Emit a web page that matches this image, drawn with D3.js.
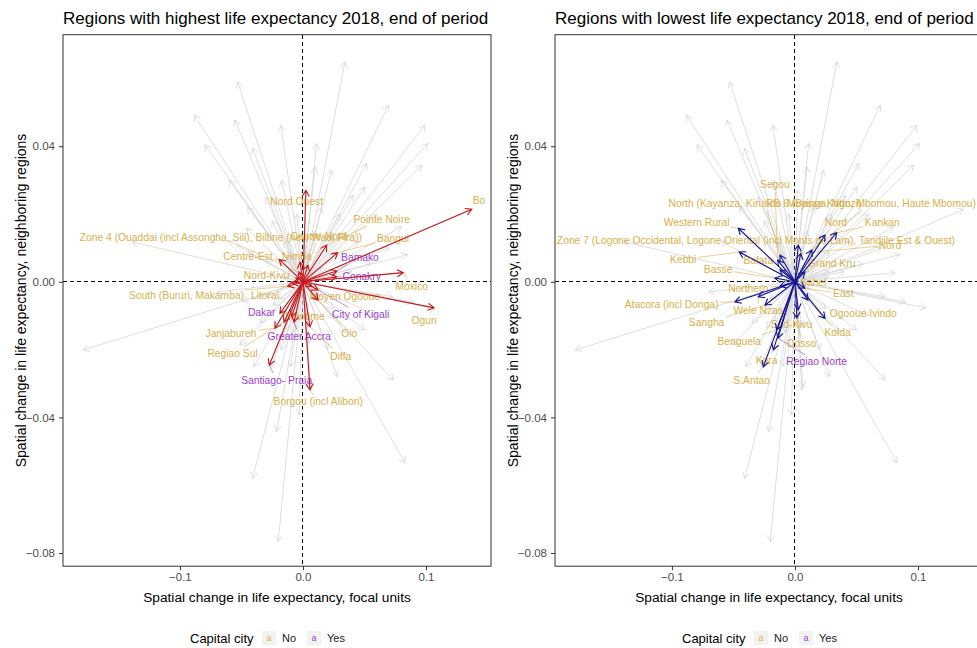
<!DOCTYPE html>
<html>
<head>
<meta charset="utf-8">
<script src="https://cdn.jsdelivr.net/npm/d3@7"></script>
<style>
  body { margin: 0; background: #fff; }
  text { font-family: "Liberation Sans", Arial, sans-serif; }
</style>
</head>
<body>
<div id="chart"></div>
<script>
// Background arrows (all regions), end points in data units
const bgX = [0.0341, -0.0531, 0.0694, -0.0884, -0.0553, -0.0179, 0.0992, -0.0797, 0.1014, 0.0111,
  -0.0409, 0.0518, 0.0965, 0.0098, 0.0233, -0.0173, 0.0504, 0.0409, -0.1786, -0.0409,
  -0.0201, -0.0214, -0.0030, 0.0829, 0.0734, -0.1390, -0.0512, 0.0500, 0.0732, 0.0802,
  0.0555, 0.0065, -0.0300, 0.0150, 0.0300, -0.0450, 0.0600, 0.0450, -0.0250, 0.0700,
  -0.0600, 0.0200, -0.0100, 0.0350, -0.0350, 0.0900, -0.0150, 0.0100, -0.0080, 0.0250,
  -0.0200, 0.0150, -0.0300, 0.0400, -0.0050, 0.0050, 0.0600, -0.0700, 0.0850, -0.0400,
  0.0280, -0.0600];
const bgY = [0.0649, 0.0590, 0.0521, 0.0492, 0.0477, 0.0462, 0.0462, 0.0404, 0.0408, 0.0408,
  0.0394, 0.0349, 0.0344, 0.0339, 0.0330, 0.0300, 0.0280, 0.0256, -0.0201, -0.0580,
  -0.0767, -0.0442, -0.0393, -0.0534, -0.0290, 0.0118, -0.0187, -0.0142, -0.0044, 0.0162,
  0.0054, -0.0310, 0.0250, 0.0220, 0.0200, 0.0220, 0.0200, 0.0120, 0.0180, 0.0100,
  0.0120, -0.0200, -0.0250, -0.0150, -0.0120, -0.0060, 0.0120, 0.0150, -0.0150, -0.0080,
  -0.0050, 0.0040, 0.0060, 0.0030, 0.0200, -0.0180, -0.0100, -0.0030, 0.0080, -0.0250,
  -0.0280, 0.0300];

// Regions with highest life expectancy
const topNames = ["Bo", "Nord Ouest", "Pointe Noire", "Bangui", "Centre-Nord",
  "Zone 4 (Ouaddai (incl Assongha, Sili), Biltine (new Wadi Fira))", "Centre-Est", "Nimba",
  "Bamako", "Nord-Kivu", "Conakry", "Moxico", "South (Bururi, Makamba)", "Litoral",
  "Moyen Ogooue", "Ogun", "Dakar", "Maritime", "City of Kigali", "Janjabureh",
  "Greater Accra", "Oio", "Regiao Sul", "Diffa", "Santiago- Praia", "Borgou (incl Alibori)"];
const topX = [0.1372, 0.0024, 0.0193, 0.0282, 0.0041, -0.0033, -0.0193, -0.0024,
  0.0276, -0.0057, 0.0274, 0.0815, -0.0124, -0.0089, 0.0073, 0.1065, -0.0187, -0.0092,
  0.0122, -0.0228, -0.0073, 0.0122, -0.0154, 0.0057, -0.0274, 0.0057];
const topY = [0.0214, 0.0270, 0.0108, 0.0086, 0.0049, 0.0029, 0.0066, 0.0058,
  0.0032, 0.0011, 0.0015, 0.0027, -0.0013, -0.0004, -0.0013, -0.0077, -0.0093, -0.0103,
  -0.0024, -0.0137, -0.0119, -0.0054, -0.0119, -0.0133, -0.0246, -0.0319];
const topLabX = [0.1431, -0.0051, 0.0640, 0.0732, 0.0128, -0.0667, -0.0447, -0.0049,
  0.0463, -0.0295, 0.0477, 0.0884, -0.0946, -0.0309, 0.0341, 0.0984, -0.0336, 0.0016,
  0.0469, -0.0585, -0.0030, 0.0376, -0.0572, 0.0307, -0.0214, 0.0124];
const topLabY = [0.0241, 0.0236, 0.0185, 0.0128, 0.0135, 0.0132, 0.0076, 0.0076,
  0.0072, 0.0019, 0.0015, -0.0013, -0.0040, -0.0040, -0.0042, -0.0113, -0.0091, -0.0101,
  -0.0096, -0.0152, -0.0162, -0.0152, -0.0213, -0.0219, -0.0290, -0.0354];
const topCapital = ["No", "No", "No", "No", "No", "No", "No", "No", "Yes", "No", "Yes", "No",
  "No", "No", "No", "No", "Yes", "No", "Yes", "No", "Yes", "No", "No", "No", "Yes", "No"];

// Regions with lowest life expectancy
const lowNames = ["Segou", "North (Kayanza, Kirundo, Muyinga, Ngozi)",
  "RS 6 (Basse Kotto, Mbomou, Haute Mbomou)", "Western Rural", "Nord", "Kankan",
  "Zone 7 (Logone Occidental, Logone Oriental (incl Monts de Lam), Tandjile Est & Ouest)",
  "Nord", "Kebbi", "Bafata", "Grand Kru", "Basse", "Sahel", "Northern", "East",
  "Atacora (incl Donga)", "Wele Nzas", "Ogooue Ivindo", "Sangha", "Sud-Kivu", "Kolda",
  "Benguela", "Dosso", "Kara", "Regiao Norte", "S.Antao"];
const lowX = [-0.0141, -0.0122, 0.0138, -0.0461, 0.0244, 0.0339, 0.0027, 0.0047,
  -0.0453, -0.0122, 0.0081, -0.0163, 0.0024, -0.0122, 0.0081, -0.0488, -0.0298, 0.0244,
  -0.0244, 0.0027, 0.0106, -0.0149, 0.0016, -0.0176, -0.0138, -0.0258];
const lowY = [0.0064, 0.0079, 0.0094, 0.0158, 0.0138, 0.0145, 0.0108, 0.0084,
  0.0088, 0.0035, 0.0029, 0.0011, 0.0002, -0.0013, -0.0019, -0.0059, -0.0044, -0.0108,
  -0.0069, -0.0083, -0.0054, -0.0142, -0.0107, -0.0201, -0.0166, -0.0251];
const lowLabX = [-0.0163, -0.0244, 0.0618, -0.0799, 0.0333, 0.0710, -0.0317, 0.0772,
  -0.0908, -0.0298, 0.0298, -0.0624, 0.0149, -0.0380, 0.0393, -0.1002, -0.0298, 0.0555,
  -0.0718, -0.0027, 0.0347, -0.0453, 0.0054, -0.0230, 0.0176, -0.0352];
const lowLabY = [0.0286, 0.0231, 0.0231, 0.0174, 0.0174, 0.0174, 0.0121, 0.0108,
  0.0066, 0.0064, 0.0054, 0.0037, -0.0003, -0.0019, -0.0036, -0.0066, -0.0086, -0.0093,
  -0.0121, -0.0126, -0.0150, -0.0177, -0.0182, -0.0233, -0.0236, -0.0290];
const lowCapital = ["No", "No", "No", "No", "No", "No", "No", "No", "No", "No", "No", "No",
  "No", "No", "No", "No", "No", "No", "No", "No", "No", "No", "No", "No", "Yes", "No"];

const xTicks = [-0.1, 0, 0.1];
const yTicks = [-0.08, -0.04, 0, 0.04];
const capitalLevels = ["No", "Yes"];

const labelColor = { No: "#D8B04C", Yes: "#9A3FD0" };
const width = 977, height = 648;
const panelTop = 34.7, panelW = 428, panelH = 531.5;

const svg = d3.select("#chart").append("svg")
    .attr("width", width)
    .attr("height", height);

// every region, drawn in grey behind the highlighted ones
const allArrows = bgX.map((v, i) => ({ x: v, y: bgY[i] }))
    .concat(topX.map((v, i) => ({ x: v, y: topY[i] })))
    .concat(lowX.map((v, i) => ({ x: v, y: lowY[i] })));

function arrowPath(x0, y0, x1, y1) {
    const a = Math.atan2(y1 - y0, x1 - x0), L = 7, t = Math.PI / 6;
    return `M${x0},${y0}L${x1},${y1}` +
        `M${x1 - L * Math.cos(a - t)},${y1 - L * Math.sin(a - t)}L${x1},${y1}` +
        `L${x1 - L * Math.cos(a + t)},${y1 - L * Math.sin(a + t)}`;
}

function drawPanel(id, left, title, names, px, py, lx, ly, cap, arrowColor) {
    const g = svg.append("g").attr("transform", `translate(${left},${panelTop})`);
    const x = d3.scaleLinear().domain([-0.195, 0.1528]).range([0, panelW]);
    const y = d3.scaleLinear().domain([-0.0839, 0.0729]).range([panelH, 0]);

    g.append("clipPath").attr("id", "clip" + id)
        .append("rect").attr("width", panelW).attr("height", panelH);
    const plot = g.append("g").attr("clip-path", `url(#clip${id})`);

    // zero reference lines
    plot.append("line")
        .attr("x1", x(0)).attr("x2", x(0)).attr("y1", 0).attr("y2", panelH)
        .attr("stroke", "#000").attr("stroke-dasharray", "4,3")
        .attr("shape-rendering", "crispEdges");
    plot.append("line")
        .attr("x1", 0).attr("x2", panelW).attr("y1", y(0)).attr("y2", y(0))
        .attr("stroke", "#000").attr("stroke-dasharray", "4,3")
        .attr("shape-rendering", "crispEdges");

    // grey arrows
    plot.append("g").selectAll("path")
        .data(allArrows)
        .join("path")
        .attr("d", d => arrowPath(x(0), y(0), x(d.x), y(d.y)))
        .attr("fill", "none")
        .attr("stroke", "#d6d6d6")
        .attr("stroke-width", 0.8);

    const rows = names.map((n, i) => ({ name: n, x: px[i], y: py[i], lx: lx[i], ly: ly[i], cap: cap[i] }));

    // labels with leader segments
    const labG = plot.append("g");
    const segG = labG.append("g");
    const texts = labG.selectAll("text")
        .data(rows)
        .join("text")
        .attr("x", d => x(d.lx))
        .attr("y", d => y(d.ly))
        .attr("text-anchor", "middle")
        .attr("dominant-baseline", "central")
        .style("font-size", "10.3px")
        .style("fill", d => labelColor[d.cap])
        .text(d => d.name);

    texts.each(function (d) {
        const b = this.getBBox();
        const cx = x(d.lx), cy = y(d.ly), tx = x(d.x), ty = y(d.y);
        const pad = 1.5;
        const x1 = b.x - pad, x2 = b.x + b.width + pad, y1 = b.y - pad, y2 = b.y + b.height + pad;
        if (tx >= x1 && tx <= x2 && ty >= y1 && ty <= y2) return;
        const dx = tx - cx, dy = ty - cy;
        const tX = dx > 0 ? (x2 - cx) / dx : dx < 0 ? (x1 - cx) / dx : Infinity;
        const tY = dy > 0 ? (y2 - cy) / dy : dy < 0 ? (y1 - cy) / dy : Infinity;
        const t = Math.min(tX, tY);
        const sx = cx + t * dx, sy = cy + t * dy;
        if (Math.hypot(tx - sx, ty - sy) < 4) return;
        segG.append("line")
            .attr("x1", sx).attr("y1", sy).attr("x2", tx).attr("y2", ty)
            .attr("stroke", labelColor[d.cap])
            .attr("stroke-width", 0.6);
    });

    // highlighted arrows
    plot.append("g").selectAll("path")
        .data(rows)
        .join("path")
        .attr("d", d => arrowPath(x(0), y(0), x(d.x), y(d.y)))
        .attr("fill", "none")
        .attr("stroke", arrowColor)
        .attr("stroke-width", 1.1);

    // panel border
    g.append("rect")
        .attr("width", panelW).attr("height", panelH)
        .attr("fill", "none").attr("stroke", "#333").attr("stroke-width", 1);

    // axes
    const yAxis = g.append("g")
        .call(d3.axisLeft(y).tickValues(yTicks).tickFormat(d3.format(".2f")).tickSize(4).tickPadding(4));
    const xAxis = g.append("g")
        .attr("transform", `translate(0,${panelH})`)
        .call(d3.axisBottom(x).tickValues(xTicks).tickFormat(d3.format(".1f")).tickSize(4).tickPadding(3));
    [xAxis, yAxis].forEach(a => {
        a.select(".domain").remove();
        a.selectAll(".tick line").attr("stroke", "#333");
        a.selectAll(".tick text")
            .style("font-family", "'Liberation Sans', Arial, sans-serif")
            .style("font-size", "11.5px")
            .style("fill", "#4d4d4d");
    });

    g.append("text")
        .attr("x", 0).attr("y", -10.5)
        .style("font-size", "17px")
        .style("fill", "#000")
        .text(title);

    g.append("text")
        .attr("x", panelW / 2).attr("y", panelH + 36)
        .attr("text-anchor", "middle")
        .style("font-size", "13.7px")
        .style("fill", "#000")
        .text("Spatial change in life expectancy, focal units");

    g.append("text")
        .attr("transform", `translate(-37,${panelH / 2}) rotate(-90)`)
        .attr("text-anchor", "middle")
        .style("font-size", "14px")
        .style("fill", "#000")
        .text("Spatial change in life expectancy, neighboring regions");

    // legend
    const lg = g.append("g").attr("transform", `translate(127,${panelH + 72})`);
    lg.append("text")
        .attr("x", 0).attr("y", 0)
        .attr("dominant-baseline", "central")
        .style("font-size", "13px")
        .style("fill", "#000")
        .text("Capital city");
    capitalLevels.forEach((lev, i) => {
        const kx = 72 + i * 45;
        lg.append("rect")
            .attr("x", kx).attr("y", -7).attr("width", 14).attr("height", 14)
            .attr("fill", "#f2f2f2");
        lg.append("text")
            .attr("x", kx + 7).attr("y", 0)
            .attr("text-anchor", "middle")
            .attr("dominant-baseline", "central")
            .style("font-size", "9px")
            .style("fill", labelColor[lev])
            .text("a");
        lg.append("text")
            .attr("x", kx + 20).attr("y", 0)
            .attr("dominant-baseline", "central")
            .style("font-size", "11px")
            .style("fill", "#1a1a1a")
            .text(lev);
    });
}

drawPanel("a", 63, "Regions with highest life expectancy 2018, end of period",
    topNames, topX, topY, topLabX, topLabY, topCapital, "#C8181E");
drawPanel("b", 555, "Regions with lowest life expectancy 2018, end of period",
    lowNames, lowX, lowY, lowLabX, lowLabY, lowCapital, "#161696");
</script>
</body>
</html>
